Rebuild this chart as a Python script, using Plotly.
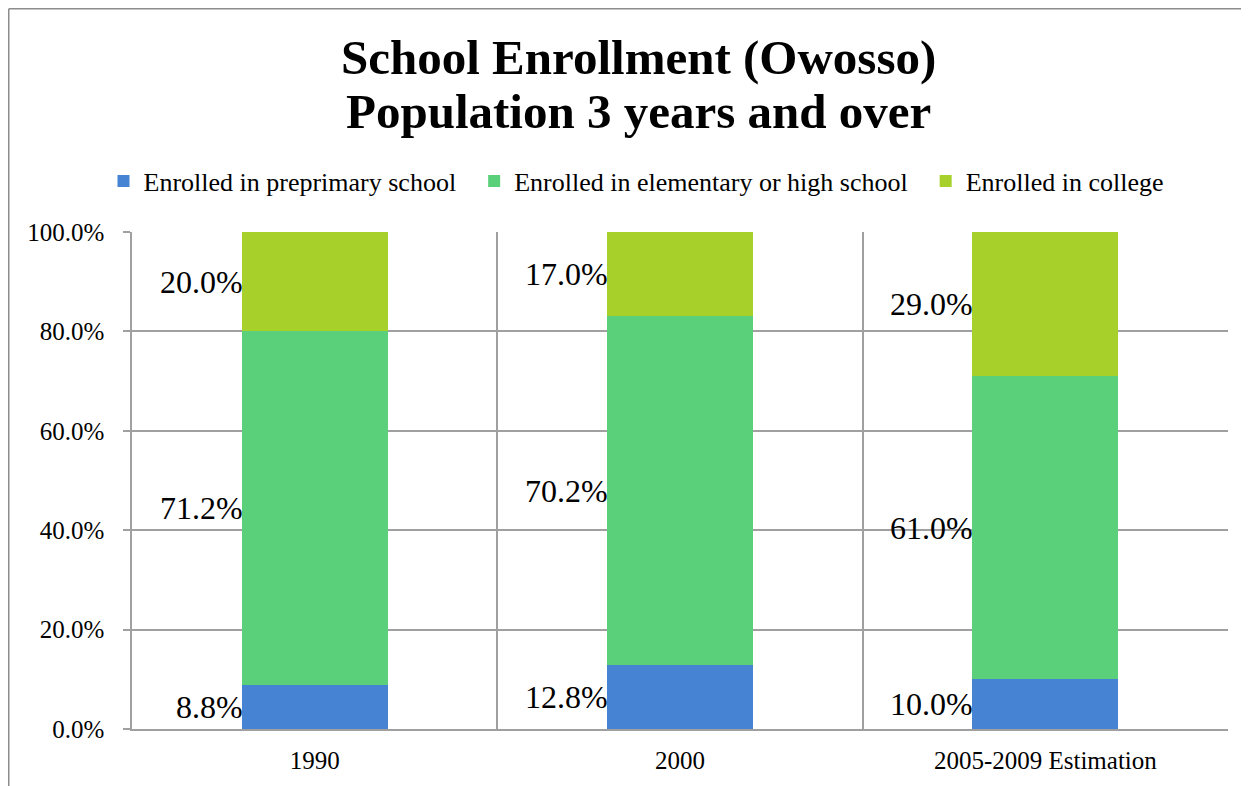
import plotly.graph_objects as go

categories = ["1990", "2000", "2005-2009 Estimation"]
preprimary = [0.088, 0.128, 0.100]
elementary_high = [0.712, 0.702, 0.610]
college = [0.200, 0.170, 0.290]

series_names = ["Enrolled in preprimary school",
                "Enrolled in elementary or high school",
                "Enrolled in college"]
series_values = [preprimary, elementary_high, college]
series_colors = ["#4683D3", "#5BD07A", "#A7D12A"]

title_lines = ["School Enrollment (Owosso)", "Population 3 years and over"]
y_ticks = [0, 0.2, 0.4, 0.6, 0.8, 1.0]

FONT = "Liberation Serif"
OFF = 8  # page body margin
W, H = 1249 - OFF, 786 - OFF
ML = 132 - OFF
MT = 232 - OFF
MR = 1249 - 1228
MB = H - (729 - OFF)
PW = W - ML - MR
PH = H - MT - MB

PAD = "\u00a0" * 2  # extra spacing between legend entries

fig = go.Figure()
for k, (name, vals, col) in enumerate(zip(series_names, series_values, series_colors)):
    fig.add_trace(go.Bar(
        x=categories, y=vals,
        name=name + (PAD if k < len(series_names) - 1 else ""),
        marker=dict(color=col, line=dict(width=0)),
        hoverinfo="skip",
    ))

# data labels to the left of each bar segment, centred on the segment
annotations = []
bar_half_px = 0.4 * (PW / len(categories)) / 2
for i, cat in enumerate(categories):
    base = 0.0
    for vals in series_values:
        v = vals[i]
        annotations.append(dict(
            x=i, y=base + v / 2, xref="x", yref="y",
            text=f"{v*100:.1f}%", showarrow=False,
            xanchor="right", yanchor="middle",
            xshift=-bar_half_px + 2, borderpad=0,
            font=dict(family=FONT, size=32, color="#000000"),
        ))
        base += v

# title as two lines
title_centers_px = [58 - OFF, 111 - OFF]
for line, cy in zip(title_lines, title_centers_px):
    annotations.append(dict(
        x=(638 - OFF - ML) / PW, y=(H - MB - cy) / PH, xref="paper", yref="paper",
        text=f"<b>{line}</b>", showarrow=False,
        xanchor="center", yanchor="middle",
        font=dict(family=FONT, size=49, color="#000000"),
    ))

# outer chart border (partially cropped in reference)
bx = (0.75 - ML) / PW
by = (H - MB - 0.75) / PH
shapes = [
    dict(type="line", xref="paper", yref="paper", x0=bx, x1=1.2, y0=by, y1=by,
         line=dict(color="#8c8c8c", width=1.5), layer="below"),
    dict(type="line", xref="paper", yref="paper", x0=bx, x1=bx, y0=by, y1=-0.3,
         line=dict(color="#8c8c8c", width=1.5), layer="below"),
]

fig.update_layout(
    width=W, height=H,
    margin=dict(l=ML, r=MR, t=MT, b=MB, pad=0, autoexpand=False),
    barmode="stack", bargap=0.6,
    paper_bgcolor="white", plot_bgcolor="white",
    font=dict(family=FONT, color="#000000"),
    showlegend=True,
    legend=dict(
        orientation="h", xref="container", yref="container",
        x=(636 - OFF) / W, y=1 - (181 - OFF) / H, xanchor="center", yanchor="middle",
        font=dict(family=FONT, size=26, color="#000000"),
        itemwidth=30, traceorder="normal",
    ),
    xaxis=dict(
        type="category", tickson="boundaries",
        showgrid=True, gridcolor="#a0a0a0", gridwidth=1.5,
        showline=True, linecolor="#a0a0a0", linewidth=1.5,
        ticks="", tickfont=dict(family=FONT, size=25, color="#000000"),
        ticklabelstandoff=8,
        range=[-0.5, 2.5], fixedrange=True,
    ),
    yaxis=dict(
        range=[0, 1.0], tickvals=y_ticks, tickformat=".1%",
        showgrid=True, gridcolor="#a0a0a0", gridwidth=1.5,
        showline=True, linecolor="#a0a0a0", linewidth=1.5,
        ticks="outside", ticklen=7, tickcolor="#a0a0a0", tickwidth=1.5,
        ticklabelstandoff=14,
        tickfont=dict(family=FONT, size=25, color="#000000"),
        zeroline=False, fixedrange=True,
    ),
    annotations=annotations,
    shapes=shapes,
)

fig.write_html("out.html")
